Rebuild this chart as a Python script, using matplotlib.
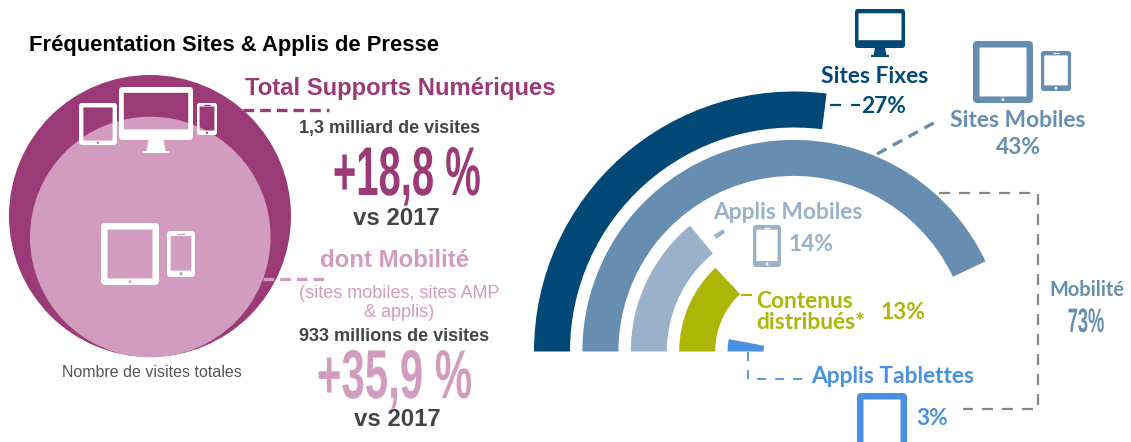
import matplotlib
matplotlib.use("Agg")
import matplotlib.pyplot as plt
from matplotlib.patches import BoxStyle, Circle, PathPatch, Polygon, Wedge
from matplotlib.patheffects import AbstractPathEffect
from matplotlib.path import Path
from matplotlib.transforms import Affine2D

# parts de frequentation, de l'anneau exterieur vers le centre
supports = ["Sites Fixes", "Sites Mobiles", "Applis Mobiles", "Contenus distribués*", "Applis Tablettes"]
parts = [27, 43, 14, 13, 3]
couleurs = ["#004976", "#678db0", "#9ab1c9", "#adb507", "#4a90e2"]
part_mobilite = 73

total_visites = "1,3 milliard de visites"
total_evolution = "+18,8 %"
mobile_visites = "933 millions de visites"
mobile_evolution = "+35,9 %"

VIOLET = "#9a3b78"
ROSE = "#d19cbe"
GRIS = "#444444"
SANS = "Liberation Sans"
NARROW = ["Liberation Sans Narrow", "Liberation Sans"]
LATO = "Lato"
HAUTEUR = 442


class Serre(AbstractPathEffect):
    # deforme le texte autour de son ancrage : plus etroit et plus haut
    def __init__(self, x_px, y_px, sx, sy):
        super().__init__()
        self.x_px = x_px
        self.y_px = y_px
        self.sx = sx
        self.sy = sy

    def draw_path(self, renderer, gc, tpath, affine, rgbFace=None):
        t = affine + (Affine2D().translate(-self.x_px, -self.y_px)
                      .scale(self.sx, self.sy).translate(self.x_px, self.y_px))
        renderer.draw_path(gc, tpath, t, rgbFace)


fig = plt.figure(figsize=(11.31, 4.42), dpi=100)
ax = fig.add_axes([0, 0, 1, 1])
ax.set_xlim(0, 1131)
ax.set_ylim(HAUTEUR, 0)
ax.axis("off")


def ecran(x0, y0, x1, y1, r, haut, cote, bas, couleur, z=5):
    # cadre arrondi avec un ecran transparent
    ext = BoxStyle("Round", pad=0, rounding_size=r)(x0, y0, x1 - x0, y1 - y0, 1)
    a, b, c, d = x0 + cote, x1 - cote, y0 + haut, y1 - bas
    inte = Path([(a, c), (a, d), (b, d), (b, c), (a, c)], closed=True)
    ax.add_patch(PathPatch(Path.make_compound_path(ext, inte), fc=couleur, ec="none", zorder=z))


def tablette(x0, y0, x1, y1, couleur, fond):
    h = y1 - y0
    ecran(x0, y0, x1, y1, h * 0.07, h * 0.105, h * 0.105, h * 0.105, couleur)
    ax.add_patch(Circle(((x0 + x1) / 2, y1 - h * 0.053), h * 0.022, fc=fond, ec="none", zorder=6))


def telephone(x0, y0, x1, y1, couleur, fond):
    h = y1 - y0
    ecran(x0, y0, x1, y1, h * 0.08, h * 0.11, h * 0.08, h * 0.14, couleur)
    ax.add_patch(Circle(((x0 + x1) / 2, y1 - h * 0.07), h * 0.035, fc=fond, ec="none", zorder=6))
    m = (x0 + x1) / 2
    ax.plot([m - h * 0.08, m + h * 0.08], [y0 + h * 0.06] * 2, color=fond, lw=1, zorder=6, solid_capstyle="butt")


def moniteur(x0, y0, x1, y1, pied, couleur):
    h = y1 - y0
    w = x1 - x0
    m = (x0 + x1) / 2
    ecran(x0, y0, x1, y1, h * 0.07, h * 0.11, h * 0.09, h * 0.2, couleur)
    ax.add_patch(Polygon([(m - w * 0.1, y1), (m + w * 0.1, y1), (m + w * 0.13, pied - 2), (m + w * 0.18, pied - 2),
                          (m + w * 0.18, pied), (m - w * 0.18, pied), (m - w * 0.18, pied - 2), (m - w * 0.13, pied - 2)],
                         fc=couleur, ec="none", zorder=5))


def tirets(xs, ys, couleur, lw=2.4, motif=(3.2, 1.8)):
    ax.plot(xs, ys, color=couleur, lw=lw, ls=(0, motif), solid_capstyle="butt", dash_capstyle="butt", zorder=4)


def texte(x, y, s, couleur, px, famille=SANS, poids="bold", ha="center", **kw):
    return ax.text(x, y + 1.5, s, color=couleur, fontsize=px * 0.72, family=famille, weight=poids,
                   ha=ha, va="center", **kw)


def serre(x, baseline, s, couleur, px, sx, sy):
    t = ax.text(x, baseline, s, color=couleur, fontsize=px * 0.72, family=NARROW, weight="bold",
                ha="center", va="baseline")
    t.set_path_effects([Serre(x, HAUTEUR - baseline, sx, sy)])


# partie gauche
ax.add_patch(Circle((150, 216), 141, fc=VIOLET, ec="none", zorder=1))
ax.add_patch(Circle((150.3, 237), 120.3, fc=ROSE, ec="none", zorder=2))

tablette(79, 103, 117, 145, "white", VIOLET)
moniteur(119, 87, 193, 140, 153, "white")
telephone(197, 103, 217, 135, "white", VIOLET)
tablette(101, 223, 159, 285, "white", ROSE)
telephone(167, 231, 195, 277, "white", ROSE)

texte(29, 44, "Fréquentation Sites & Applis de Presse", "black", 22, ha="left")
texte(400.5, 87, "Total Supports Numériques", VIOLET, 23.9)
tirets([243, 329], [110, 110], VIOLET)
texte(389.5, 127, total_visites, GRIS, 18)
serre(407, 195, total_evolution, VIOLET, 50, 0.8, 1.38)
texte(396, 217, "vs 2017", GRIS, 24)
texte(395, 259, "dont Mobilité", ROSE, 24)
tirets([263, 328], [279, 279], ROSE)
texte(399, 292, "(sites mobiles, sites AMP", ROSE, 18, poids="normal")
texte(399, 311, "& applis)", ROSE, 18, poids="normal")
texte(394, 335, mobile_visites, GRIS, 18)
serre(394.5, 398, mobile_evolution, ROSE, 50, 0.84, 1.38)
texte(397, 418, "vs 2017", GRIS, 24)
texte(152, 371, "Nombre de visites totales", "#555555", 16, poids="normal")

# anneaux : 100 % = 360 degres, depart a gauche sur l'horizontale
cx, cy = 794, 351.5
rayon = 260
epaisseur = 36
pas = 48.4
for i, (valeur, couleur) in enumerate(zip(parts, couleurs)):
    ax.add_patch(Wedge((cx, cy), rayon - i * pas, 180, 180 + valeur * 3.6, width=epaisseur,
                       fc=couleur, ec="none", zorder=3))

# etiquettes des anneaux
LABEL = 22.7
tirets([830, 860], [105, 105], couleurs[0], lw=1.6, motif=(5, 4.5))
moniteur(855, 9, 905, 48, 57, couleurs[0])
texte(875, 75, supports[0], couleurs[0], LABEL, famille=LATO)
texte(884, 105, f"{parts[0]}%", couleurs[0], LABEL, famille=LATO)

tablette(973, 41, 1033, 103, couleurs[1], "white")
telephone(1041, 51, 1071, 91, couleurs[1], "white")
tirets([877, 939], [154, 120], couleurs[1], motif=(3.2, 2.2))
texte(1018, 119, supports[1], couleurs[1], LABEL, famille=LATO)
texte(1018, 146, f"{parts[1]}%", couleurs[1], LABEL, famille=LATO)

tirets([715, 724], [237, 231], couleurs[2], lw=3, motif=(3.2, 3.2))
telephone(753, 225, 781, 267, couleurs[2], "white")
texte(788, 211, supports[2], couleurs[2], LABEL, famille=LATO)
texte(811, 243, f"{parts[2]}%", couleurs[2], LABEL, famille=LATO)

tirets([741, 752], [295, 295], couleurs[3], lw=1.5, motif=(8, 1))
texte(756, 300, "Contenus", couleurs[3], LABEL, famille=LATO, ha="left")
texte(756, 321, "distribués*", couleurs[3], LABEL, famille=LATO, ha="left")
texte(903, 311, f"{parts[3]}%", couleurs[3], LABEL, famille=LATO)

ax.plot([748, 748, 808], [352, 379, 379], color=couleurs[4], lw=1.3, ls=(0, (5, 5)), zorder=4)
texte(893, 375, supports[4], couleurs[4], LABEL, famille=LATO)
tablette(857, 393, 907, 455, couleurs[4], "white")
texte(932, 417, f"{parts[4]}%", couleurs[4], LABEL, famille=LATO)

# accolade mobilite
ax.plot([939, 1038, 1038, 963], [193, 193, 409, 409], color="#888888", lw=1.6, ls=(0, (5, 4)), zorder=2)
texte(1087, 288, "Mobilité", couleurs[1], 20, famille=LATO)
serre(1086, 332, f"{part_mobilite}%", couleurs[1], 25, 0.73, 1.36)

fig.savefig("out.png", dpi=100)
